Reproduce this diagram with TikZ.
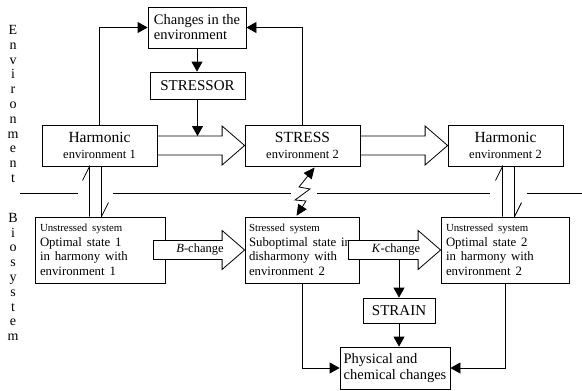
\documentclass[tikz,border=0pt]{standalone}
\usepackage{fontspec}
\setmainfont{Liberation Serif}
\usetikzlibrary{arrows.meta,calc}

% hollow block arrow from tail (#1) to tip (#2), horizontal
\newcommand{\fatarrow}[2]{%
  \filldraw[fill=white] let \p1=(#1), \p2=(#2) in
    (\x1,\y1+9.5pt) -- (\x2-22.5pt,\y1+9.5pt) -- (\x2-22.5pt,\y1+19.5pt) -- (\x2,\y1)
    -- (\x2-22.5pt,\y1-19.5pt) -- (\x2-22.5pt,\y1-9.5pt) -- (\x1,\y1-9.5pt) -- cycle;}

\begin{document}
\begin{tikzpicture}[x=1pt, y=-1pt, line width=0.8pt,
  every node/.style={font=\fontsize{14.5}{15}\selectfont},
  box/.style={draw, inner sep=0pt},
  sysbox/.style={box, align=left, minimum height=66pt},
  arr/.style={-{Triangle[length=10pt,width=11pt]}},
  zig/.style={{Triangle[length=11pt,width=10pt]}-{Triangle[length=11pt,width=10pt]}}]
  \useasboundingbox (0,0) rectangle (582,391);

  % side labels
  \node[align=center, font=\fontsize{14}{14.8}\selectfont] (envlab) at (13,104) {E\\n\\v\\i\\r\\o\\n\\m\\e\\n\\t};
  \node[align=center, font=\fontsize{14}{14.8}\selectfont] (biolab) at (13,277) {B\\i\\o\\s\\y\\s\\t\\e\\m};

  % divider
  \draw (20,193) -- (78,193);
  \draw (113,193) -- (291,193);
  \draw (317,193) -- (490,193);
  \draw (527,193) -- (582,193);

  % environment row
  \node[box, align=left, minimum width=98pt, minimum height=41pt] (changes) at (197,27.5) {Changes in the\\environment};
  \node[box, minimum width=95pt, minimum height=27pt, font=\fontsize{15}{16}\selectfont] (stressor) at (197.5,85.5) {STRESSOR};
  \node[box, align=center, minimum width=115pt, minimum height=41pt, font=\fontsize{15.5}{16}\selectfont] (harm1) at (99.5,145.5) {Harmonic\\{\fontsize{12.5}{14}\selectfont environment 1}};
  \node[box, align=center, minimum width=115pt, minimum height=41pt, font=\fontsize{15.5}{16}\selectfont] (stress2) at (302.5,145.5) {STRESS\\{\fontsize{12.5}{14}\selectfont environment 2}};
  \node[box, align=center, minimum width=115pt, minimum height=41pt, font=\fontsize{15.5}{16}\selectfont] (harm2) at (505.5,145.5) {Harmonic\\{\fontsize{12.5}{14}\selectfont environment 2}};

  % biosystem row
  \node[sysbox, text width=120pt, minimum width=130pt] (unst1) at (100,250)
    {{\fontsize{10.8}{13}\selectfont Unstressed system\par}\fontsize{12.8}{14.5}\selectfont Optimal state 1\\in harmony with\\environment 1};
  \node[sysbox, text width=106pt, minimum width=114pt] (strsys) at (302,250)
    {{\fontsize{10.8}{13}\selectfont Stressed system\par}\fontsize{12.8}{14.5}\selectfont Suboptimal state in\\disharmony with\\environment 2};
  \node[sysbox, text width=118pt, minimum width=128pt] (unst2) at (505,250)
    {{\fontsize{10.8}{13}\selectfont Unstressed system\par}\fontsize{12.8}{14.5}\selectfont Optimal state 2\\in harmony with\\environment 2};
  \node[box, minimum width=72pt, minimum height=25pt, font=\fontsize{15}{16}\selectfont] (strain) at (399,310.5) {STRAIN};
  \node[box, align=left, minimum width=110pt, minimum height=42pt, font=\fontsize{14.5}{16.5}\selectfont] (phys) at (395,368) {Physical and\\chemical changes};

  % block arrows
  \fatarrow{harm1.east}{stress2.west}
  \fatarrow{stress2.east}{harm2.west}
  \fatarrow{[xshift=-12pt]unst1.east}{strsys.west}
  \fatarrow{[xshift=-11pt]strsys.east}{unst2.west}
  \node[font=\fontsize{12.5}{14}\selectfont] (bchg) at (200,250) {\textit{B}-change};
  \node[font=\fontsize{12.5}{14}\selectfont] (kchg) at (396,250) {\textit{K}-change};

  % feedback and stressor
  \draw[arr] (harm1.north) |- (changes.west);
  \draw[arr] (stress2.north) |- (changes.east);
  \draw[arr] (changes.south) -- (changes.south |- stressor.north);
  \coordinate (stressin) at (197.5,136);
  \draw[arr] (stressor.south) -- (stressin);

  % harpoons
  \draw ([xshift=-10pt]harm1.south |- unst1.north) -- ([xshift=-10pt]harm1.south) -- ++(-7,14);
  \draw ([xshift=2pt]harm1.south) -- ([xshift=2pt]harm1.south |- unst1.north) -- ++(7,-14);
  \draw ([xshift=-3pt]harm2.south |- unst2.north) -- ([xshift=-3pt]harm2.south) -- ++(-7,14);
  \draw ([xshift=9pt]harm2.south) -- ([xshift=9pt]harm2.south |- unst2.north) -- ++(7,-14);

  % stress link
  \draw[zig, shorten <=1pt, shorten >=1.5pt] ([xshift=-6pt]strsys.north) -- (306,201) -- (295,200) -- (310,189) -- (299,187) -- ([xshift=13pt]stress2.south);

  % strain and changes
  \coordinate (kfoot) at (399,259.5);
  \draw[arr] (kfoot) -- (kfoot |- strain.north);
  \draw[arr] (strain.south) -- (strain.south |- phys.north);
  \draw[arr] (strsys.south) |- (phys.west);
  \draw[arr] (unst2.south) |- (phys.east);
\end{tikzpicture}
\end{document}
